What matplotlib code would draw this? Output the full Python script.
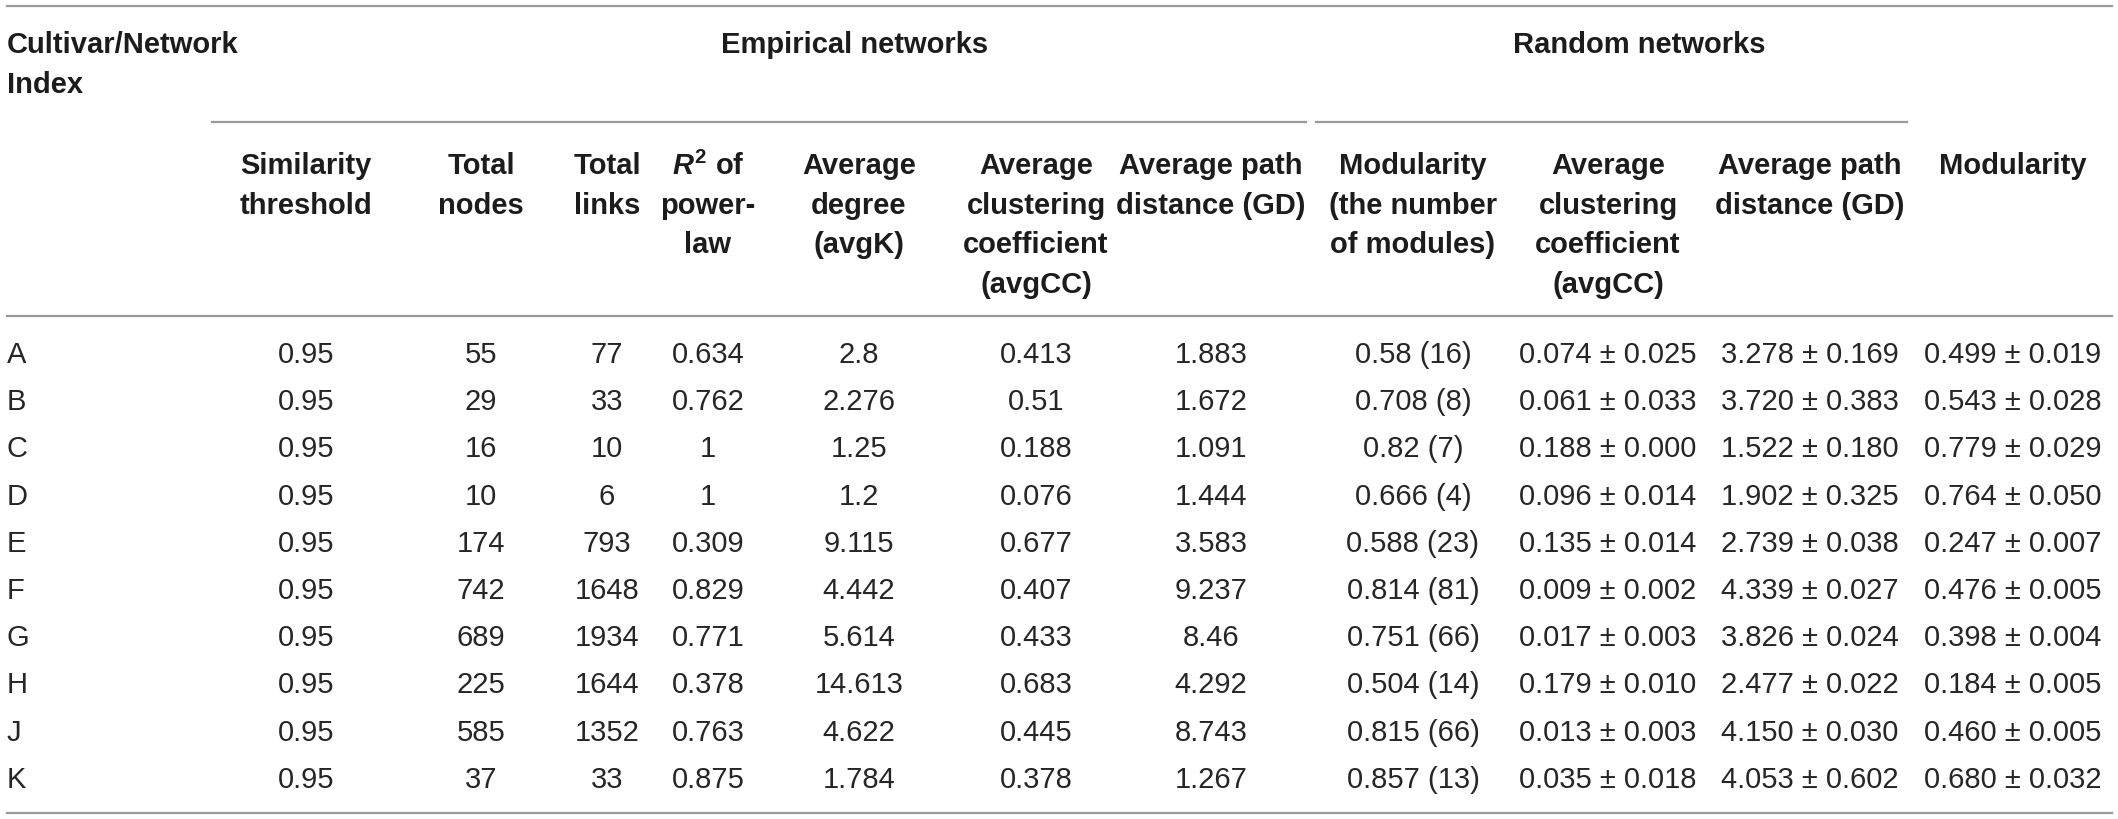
import matplotlib
matplotlib.use('Agg')
import matplotlib.pyplot as plt

plt.rcParams['font.family'] = ['Liberation Sans', 'DejaVu Sans']
plt.rcParams['mathtext.fontset'] = 'custom'
plt.rcParams['mathtext.it'] = 'Liberation Sans:italic:bold'
plt.rcParams['mathtext.rm'] = 'Liberation Sans:bold'
plt.rcParams['mathtext.bf'] = 'Liberation Sans:bold'

# table values
cultivars = ['A', 'B', 'C', 'D', 'E', 'F', 'G', 'H', 'J', 'K']
similarity = ['0.95', '0.95', '0.95', '0.95', '0.95', '0.95', '0.95', '0.95', '0.95', '0.95']
total_nodes = [55, 29, 16, 10, 174, 742, 689, 225, 585, 37]
total_links = [77, 33, 10, 6, 793, 1648, 1934, 1644, 1352, 33]
r2_powerlaw = ['0.634', '0.762', '1', '1', '0.309', '0.829', '0.771', '0.378', '0.763', '0.875']
avg_k = ['2.8', '2.276', '1.25', '1.2', '9.115', '4.442', '5.614', '14.613', '4.622', '1.784']
avg_cc = ['0.413', '0.51', '0.188', '0.076', '0.677', '0.407', '0.433', '0.683', '0.445', '0.378']
avg_gd = ['1.883', '1.672', '1.091', '1.444', '3.583', '9.237', '8.46', '4.292', '8.743', '1.267']
modularity = ['0.58', '0.708', '0.82', '0.666', '0.588', '0.814', '0.751', '0.504', '0.815', '0.857']
n_modules = [16, 8, 7, 4, 23, 81, 66, 14, 66, 13]
rand_cc = [0.074, 0.061, 0.188, 0.096, 0.135, 0.009, 0.017, 0.179, 0.013, 0.035]
rand_cc_sd = [0.025, 0.033, 0.000, 0.014, 0.014, 0.002, 0.003, 0.010, 0.003, 0.018]
rand_gd = [3.278, 3.720, 1.522, 1.902, 2.739, 4.339, 3.826, 2.477, 4.150, 4.053]
rand_gd_sd = [0.169, 0.383, 0.180, 0.325, 0.038, 0.027, 0.024, 0.022, 0.030, 0.602]
rand_mod = [0.499, 0.543, 0.779, 0.764, 0.247, 0.476, 0.398, 0.184, 0.460, 0.680]
rand_mod_sd = [0.019, 0.028, 0.029, 0.050, 0.007, 0.005, 0.004, 0.005, 0.005, 0.032]

headers = [
    ['Similarity', 'threshold'],
    ['Total', 'nodes'],
    ['Total', 'links'],
    [r'$R^2$ of', 'power-', 'law'],
    ['Average', 'degree', '(avgK)'],
    ['Average', 'clustering', 'coefficient', '(avgCC)'],
    ['Average path', 'distance (GD)'],
    ['Modularity', '(the number', 'of modules)'],
    ['Average', 'clustering', 'coefficient', '(avgCC)'],
    ['Average path', 'distance (GD)'],
    ['Modularity'],
]

col_x = [306, 481, 607, 708, 859, 1036, 1211, 1413, 1608, 1810, 2013]

W, H = 2118, 819
fig = plt.figure(figsize=(W / 100, H / 100), dpi=100)
ax = fig.add_axes([0, 0, 1, 1])
ax.set_xlim(0, W)
ax.set_ylim(H, 0)
ax.axis('off')

line_col = '#9a9a9a'
head_col = '#1c1c1c'
txt_col = '#262626'
fs = 21

# rules
ax.plot([7, 2112], [6, 6], color=line_col, lw=1.6)
ax.plot([212, 1306], [122, 122], color=line_col, lw=1.6)
ax.plot([1316, 1907], [122, 122], color=line_col, lw=1.6)
ax.plot([7, 2112], [316, 316], color=line_col, lw=1.6)
ax.plot([7, 2112], [813, 813], color=line_col, lw=1.6)

# top header
ax.text(7, 42, 'Cultivar/Network', fontsize=fs, fontweight='bold', color=head_col,
        ha='left', va='center_baseline')
ax.text(7, 82, 'Index', fontsize=fs, fontweight='bold', color=head_col,
        ha='left', va='center_baseline')
ax.text(855, 42, 'Empirical networks', fontsize=fs, fontweight='bold', color=head_col,
        ha='center', va='center_baseline')
ax.text(1639, 42, 'Random networks', fontsize=fs, fontweight='bold', color=head_col,
        ha='center', va='center_baseline')

head_y = [163, 202.5, 242, 282]
for x, lines in zip(col_x, headers):
    for j, s in enumerate(lines):
        ax.text(x, head_y[j], s, fontsize=fs, fontweight='bold', color=head_col,
                ha='center', va='center_baseline')

# body
for i, name in enumerate(cultivars):
    y = 352 + i * 47.2
    cells = [
        similarity[i],
        str(total_nodes[i]),
        str(total_links[i]),
        r2_powerlaw[i],
        avg_k[i],
        avg_cc[i],
        avg_gd[i],
        '%s (%d)' % (modularity[i], n_modules[i]),
        '%.3f \u00b1 %.3f' % (rand_cc[i], rand_cc_sd[i]),
        '%.3f \u00b1 %.3f' % (rand_gd[i], rand_gd_sd[i]),
        '%.3f \u00b1 %.3f' % (rand_mod[i], rand_mod_sd[i]),
    ]
    ax.text(7, y, name, fontsize=fs, color=txt_col, ha='left', va='center_baseline')
    for x, s in zip(col_x, cells):
        ax.text(x, y, s, fontsize=fs, color=txt_col, ha='center', va='center_baseline')

plt.savefig('out.png', dpi=100)
